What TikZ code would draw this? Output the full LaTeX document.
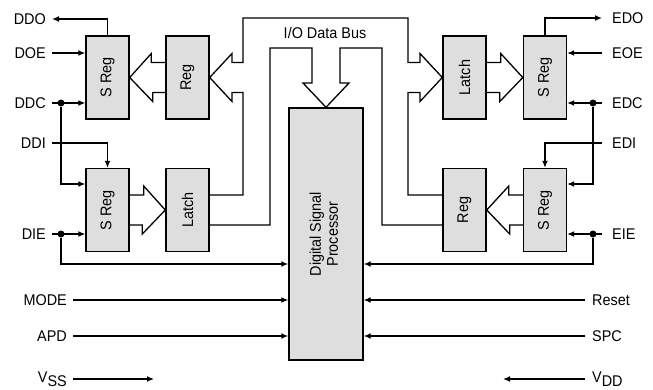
\documentclass[tikz,border=0pt]{standalone}
\usepackage{fontspec}
\setmainfont[FakeStretch=0.93]{Liberation Sans}
\usetikzlibrary{arrows.meta, calc}
\definecolor{boxgray}{RGB}{222,222,222}
\tikzset{
  regbox/.style={rectangle, draw, fill=boxgray, line width=1.4pt,
                 minimum width=43pt, minimum height=83pt, inner sep=0pt},
  dspbox/.style={regbox, minimum width=74pt, minimum height=252pt},
  pinl/.style={anchor=east, inner xsep=6pt, inner ysep=0pt},
  pinr/.style={anchor=west, inner xsep=10pt, inner ysep=0pt},
  sig/.style={line width=1.3pt, -{Latex[length=7pt, width=6pt]}},
  bus/.style={line width=1.3pt, line join=miter},
  dot/.style={circle, fill, inner sep=0pt, minimum size=7pt},
}

\begin{document}
\begin{tikzpicture}[x=1pt, y=-1pt, font=\fontsize{15.5}{17}\selectfont]
  \useasboundingbox (0,0) rectangle (653,389);

  % registers and processor
  \node[regbox] (sregTL)  at (107.5,77.5) {\rotatebox{90}{S Reg}};
  \node[regbox] (regTL)   at (187.5,77.5) {\rotatebox{90}{Reg}};
  \node[regbox] (sregBL)  at (107.5,210)  {\rotatebox{90}{S Reg}};
  \node[regbox] (latchBL) at (187.5,210)  {\rotatebox{90}{Latch}};
  \node[regbox] (latchTR) at (464.5,77.5) {\rotatebox{90}{Latch}};
  \node[regbox] (sregTR)  at (545,77.5)   {\rotatebox{90}{S Reg}};
  \node[regbox] (regBR)   at (464.5,210)  {\rotatebox{90}{Reg}};
  \node[regbox] (sregBR)  at (545,210)    {\rotatebox{90}{S Reg}};
  \node[dspbox] (dsp)     at (326,234)
    {\rotatebox{90}{\begin{tabular}{@{}c@{}}Digital Signal\\Processor\end{tabular}}};

  % hollow arrows between registers
  \draw[bus] ($(regTL.west)+(0,-15)$) -- ++(-14,0) -- ++(0,-9) -- (sregTL.east)
    -- ++(23,24) -- ++(0,-9) -- ++(14,0);
  \draw[bus] ($(sregBL.east)+(0,-15)$) -- ++(14,0) -- ++(0,-9) -- (latchBL.west)
    -- ++(-23,24) -- ++(0,-9) -- ++(-14,0);
  \draw[bus] ($(latchTR.east)+(0,-15)$) -- ++(14,0) -- ++(0,-9) -- (sregTR.west)
    -- ++(-23,24) -- ++(0,-9) -- ++(-14,0);
  \draw[bus] ($(sregBR.west)+(0,-15)$) -- ++(-14,0) -- ++(0,-9) -- (regBR.east)
    -- ++(23,24) -- ++(0,-9) -- ++(14,0);

  % I/O data bus
  \draw[bus] ($(latchBL.east)+(0,-15)$) -- (243,195) -- (243,92.5) -- (232,92.5)
    -- (232,101.5) -- (regTL.east) -- (232,53.5) -- (232,62.5) -- (243,62.5)
    -- (243,18) -- (408,18) -- (408,62.5) -- (420,62.5) -- (420,53.5)
    -- (latchTR.west) -- (420,101.5) -- (420,92.5) -- (408,92.5) -- (408,195)
    -- ($(regBR.west)+(0,-15)$);
  \draw[bus] ($(latchBL.east)+(0,15)$) -- (270,225) -- (270,48) -- (312,48)
    -- (312,83) -- (303,83) -- (dsp.north) -- (349,83) -- (340,83) -- (340,48)
    -- (382,48) -- (382,225) -- ($(regBR.west)+(0,15)$);
  \node (buslbl) at (325,33) {I/O Data Bus};

  % left pins
  \node[pinl] (ddo)  at (52,19)  {DDO};
  \node[pinl] (doe)  at (52,53)  {DOE};
  \node[pinl] (ddc)  at (52,103) {DDC};
  \node[pinl] (ddi)  at (52,143) {DDI};
  \node[pinl] (die)  at (52,234) {DIE};
  \node[pinl] (mode) at (73,300) {MODE};
  \node[pinl] (apd)  at (73,336) {APD};
  \node[pinl] (vss)  at (73,379) {V\raisebox{-4pt}{SS}};
  \node[dot] (ddcdot) at (61,103) {};
  \node[dot] (diedot) at (61,234) {};
  \coordinate (vssend) at (154,379);

  \draw[sig] (sregTL.north) |- (ddo.east);
  \draw[sig] (doe.east) -- (sregTL.west |- doe.east);
  \draw[sig] (ddc.east) -- (sregTL.west |- ddc.east);
  \draw[sig] (ddcdot) |- ($(sregBL.west)+(0,-26)$);
  \draw[sig] (ddi.east) -| (sregBL.north);
  \draw[sig] (die.east) -- (sregBL.west |- die.east);
  \draw[sig] (diedot) |- ($(dsp.west)+(0,30)$);
  \draw[sig] (mode.east) -- (dsp.west |- mode.east);
  \draw[sig] (apd.east) -- (dsp.west |- apd.east);
  \draw[sig] (vss.east) -- (vssend);

  % right pins
  \node[pinr] (edo)   at (602,18)  {EDO};
  \node[pinr] (eoe)   at (602,53)  {EOE};
  \node[pinr] (edc)   at (602,103) {EDC};
  \node[pinr] (edi)   at (602,143) {EDI};
  \node[pinr] (eie)   at (602,234) {EIE};
  \node[pinr, inner xsep=7pt] (reset) at (585,300) {Reset};
  \node[pinr, inner xsep=7pt] (spc)   at (585,336) {SPC};
  \node[pinr, inner xsep=7pt] (vdd)   at (585,379) {V\raisebox{-4pt}{DD}};
  \node[dot] (edcdot) at (593,103) {};
  \node[dot] (eiedot) at (593,234) {};
  \coordinate (vddend) at (503,379);

  \draw[sig] (sregTR.north) |- (edo.west);
  \draw[sig] (eoe.west) -- (sregTR.east |- eoe.west);
  \draw[sig] (edc.west) -- (sregTR.east |- edc.west);
  \draw[sig] (edcdot) |- ($(sregBR.east)+(0,-26)$);
  \draw[sig] (edi.west) -| (sregBR.north);
  \draw[sig] (eie.west) -- (sregBR.east |- eie.west);
  \draw[sig] (eiedot) |- ($(dsp.east)+(0,30)$);
  \draw[sig] (reset.west) -- (dsp.east |- reset.west);
  \draw[sig] (spc.west) -- (dsp.east |- spc.west);
  \draw[sig] (vdd.west) -- (vddend);
\end{tikzpicture}
\end{document}
